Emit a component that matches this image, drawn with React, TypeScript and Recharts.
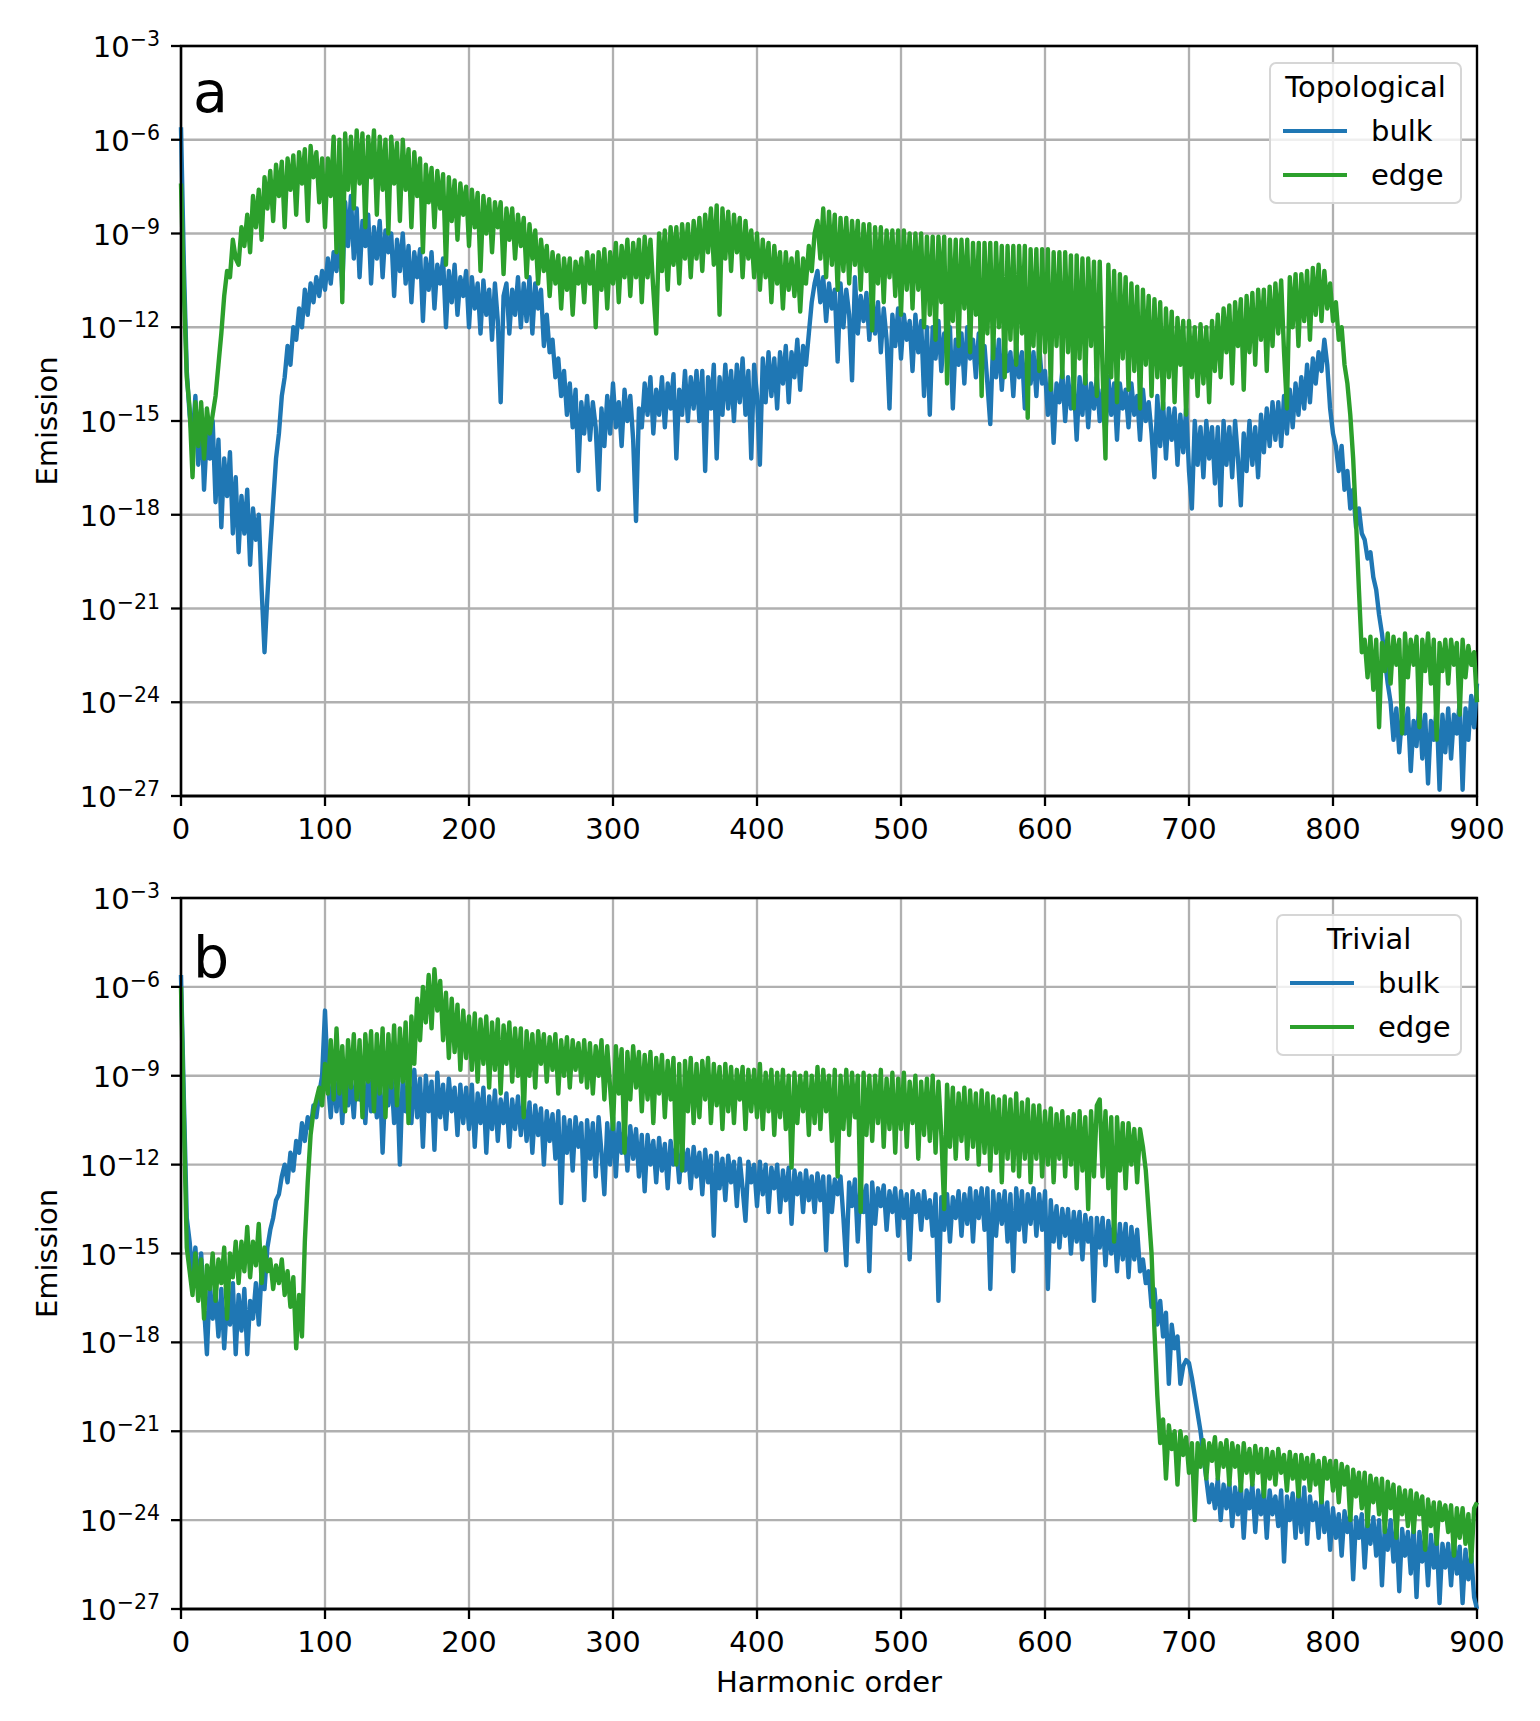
import React from 'react';
import { LineChart, Line, XAxis, YAxis, CartesianGrid, Legend, Label, ReferenceArea } from 'recharts';

// log10 of the emitted intensity, sampled every STEP harmonic orders (0 .. 900)
const STEP = 2;

const xTicks = [0, 100, 200, 300, 400, 500, 600, 700, 800, 900];
const yTicks = [-27, -24, -21, -18, -15, -12, -9, -6, -3];

// one row = 40 harmonic orders
const topologicalBulk = [
  -5.6, -10.0, -13.4, -14.8, -15.6, -14.2, -16.4, -14.6, -17.2, -15.4, -16.2, -15.0, -17.6, -15.6, -18.4, -16.2, -17.4, -16.0, -18.6, -16.8,
  -19.2, -17.4, -18.6, -17.2, -19.6, -17.8, -18.8, -18.0, -20.4, -22.4, -20.6, -19.0, -17.6, -16.2, -15.4, -14.2, -13.6, -12.6, -13.2, -12.0,
  -12.4, -11.4, -12.0, -10.8, -11.6, -10.6, -11.2, -10.4, -11.0, -10.2, -10.8, -9.8, -10.6, -9.6, -10.2, -9.0, -10.8, -8.0, -9.4, -7.8,
  -9.8, -8.2, -10.4, -8.6, -9.4, -8.4, -10.6, -8.8, -9.8, -8.6, -10.4, -8.9, -9.6, -9.0, -11.0, -9.2, -10.2, -9.0, -10.6, -9.4,
  -11.2, -9.6, -10.4, -9.5, -11.8, -9.8, -10.8, -9.6, -11.4, -10.0, -10.6, -9.8, -12.0, -10.2, -11.2, -10.0, -11.6, -10.4, -11.0, -10.2,
  -12.0, -10.4, -11.4, -10.6, -12.2, -10.5, -11.6, -10.8, -12.4, -10.6, -11.8, -14.4, -11.0, -10.6, -12.2, -10.8, -11.6, -10.4, -12.0, -10.6,
  -11.8, -10.4, -12.2, -10.6, -11.4, -10.8, -12.6, -11.6, -12.8, -12.4, -13.6, -13.0, -14.2, -13.4, -14.8, -13.8, -15.2, -14.0, -16.6, -14.4,
  -15.4, -14.2, -15.6, -14.4, -15.2, -17.2, -14.6, -15.8, -14.2, -15.4, -13.8, -15.2, -14.4, -15.8, -14.0, -15.0, -14.2, -15.6, -18.2, -14.6,
  -15.2, -13.8, -14.8, -13.6, -15.4, -14.0, -14.8, -13.6, -15.2, -13.8, -14.6, -13.5, -16.2, -14.0, -14.8, -13.4, -15.0, -13.6, -14.6, -13.4,
  -15.0, -13.4, -16.6, -13.6, -14.6, -13.2, -16.2, -13.6, -14.8, -13.2, -14.6, -13.4, -15.0, -13.2, -14.4, -13.0, -14.8, -13.4, -16.2, -13.2,
  -14.2, -16.4, -13.0, -14.4, -12.8, -14.2, -13.0, -14.6, -12.8, -13.8, -12.6, -14.4, -12.8, -13.6, -12.4, -14.0, -12.6, -13.2, -12.2, -11.2,
  -10.6, -10.2, -11.2, -10.4, -11.8, -10.6, -11.4, -10.8, -13.1, -10.6, -12.0, -10.8, -11.6, -13.7, -10.4, -12.2, -11.0, -11.8, -10.9, -12.4,
  -11.0, -12.2, -11.2, -12.8, -11.4, -12.4, -14.6, -11.6, -12.6, -11.4, -13.0, -11.6, -12.4, -11.8, -13.4, -11.6, -12.8, -11.8, -14.2, -12.0,
  -14.8, -12.0, -13.0, -11.8, -13.4, -12.2, -12.8, -12.0, -14.6, -12.4, -13.2, -12.2, -13.8, -12.0, -13.0, -12.4, -13.6, -12.2, -13.2, -12.6,
  -13.8, -15.1, -12.4, -13.6, -12.4, -14.0, -12.6, -13.4, -12.8, -14.2, -12.6, -13.6, -12.8, -14.6, -12.6, -13.8, -12.8, -14.2, -12.6, -13.8,
  -13.4, -14.8, -13.6, -15.7, -13.8, -14.4, -13.4, -15.0, -13.6, -14.6, -13.8, -15.6, -13.6, -14.8, -13.5, -15.2, -13.8, -14.6, -13.6, -15.0,
  -14.0, -15.4, -13.6, -14.8, -13.8, -15.6, -13.8, -14.6, -14.0, -15.2, -13.8, -14.8, -14.2, -15.6, -14.0, -15.0, -14.4, -15.4, -16.8, -14.2,
  -15.8, -14.4, -16.2, -14.6, -15.6, -14.6, -16.4, -14.8, -16.0, -14.6, -16.6, -17.8, -15.0, -16.4, -15.2, -16.8, -15.0, -16.2, -15.2, -17.0,
  -15.2, -17.7, -15.0, -16.4, -15.2, -16.8, -15.0, -16.2, -17.7, -15.4, -16.6, -15.0, -16.4, -15.2, -16.8, -14.8, -16.0, -14.6, -15.8, -14.4,
  -15.6, -14.4, -15.8, -14.2, -15.4, -14.0, -15.2, -13.8, -14.8, -13.6, -14.6, -13.2, -14.4, -13.0, -13.8, -12.8, -13.4, -12.4, -13.2, -14.6,
  -15.4, -15.8, -16.6, -15.8, -17.2, -16.6, -17.8, -17.2, -18.4, -17.8, -18.6, -18.8, -19.4, -19.2, -20.0, -20.4, -21.2, -21.8, -22.6, -23.4,
  -24.0, -25.2, -24.2, -25.6, -24.4, -25.0, -24.2, -26.2, -24.6, -25.4, -24.0, -25.8, -24.4, -26.6, -24.6, -25.2, -24.2, -26.8, -24.4, -25.6,
  -24.2, -25.8, -24.4, -25.0, -24.0, -26.8, -24.2, -25.2, -23.8, -24.8, -23.4,
];

const topologicalEdge = [
  -7.4, -10.8, -13.6, -14.6, -16.8, -14.4, -15.8, -14.4, -16.2, -14.6, -15.4, -14.8, -14.2, -13.2, -12.2, -11.0, -10.2, -10.4, -9.2, -9.8,
  -10.0, -8.8, -9.4, -8.4, -9.6, -7.8, -8.8, -7.6, -9.2, -7.2, -8.2, -7.0, -8.6, -6.8, -7.8, -6.7, -8.8, -6.6, -7.6, -6.5,
  -8.4, -6.4, -7.4, -6.3, -8.6, -6.2, -7.2, -6.4, -8.0, -6.6, -8.8, -6.6, -7.8, -5.9, -9.6, -6.0, -11.2, -5.8, -7.6, -5.9,
  -8.2, -5.7, -7.4, -5.8, -8.8, -5.9, -7.2, -5.7, -8.4, -5.9, -7.6, -6.0, -9.0, -5.9, -7.4, -6.1, -8.6, -6.0, -7.6, -6.3,
  -8.8, -6.4, -7.8, -6.6, -9.6, -6.8, -8.0, -6.9, -8.8, -7.0, -8.2, -7.1, -10.0, -7.2, -8.6, -7.3, -9.2, -7.4, -8.4, -7.5,
  -9.4, -7.6, -8.8, -7.7, -10.2, -7.8, -9.0, -7.9, -9.6, -8.0, -8.8, -8.0, -10.3, -8.2, -9.2, -8.2, -9.8, -8.4, -9.4, -8.5,
  -10.4, -8.7, -9.8, -8.9, -10.6, -9.2, -10.2, -9.4, -11.0, -9.6, -10.6, -9.7, -11.4, -9.8, -10.8, -9.8, -11.6, -9.9, -10.6, -9.8,
  -11.2, -9.6, -10.6, -9.7, -12.0, -9.6, -10.8, -9.5, -11.4, -9.6, -10.6, -9.3, -11.2, -9.4, -10.4, -9.2, -11.0, -9.3, -10.4, -9.2,
  -11.2, -9.1, -10.4, -9.2, -10.8, -12.2, -9.0, -10.2, -8.9, -10.8, -8.8, -10.0, -8.8, -10.6, -8.7, -9.8, -8.7, -10.4, -8.6, -9.8,
  -8.5, -10.2, -8.4, -9.6, -8.2, -10.0, -8.1, -11.6, -8.2, -9.8, -8.3, -10.2, -8.4, -9.6, -8.5, -10.4, -8.6, -9.8, -8.9, -10.4,
  -9.0, -10.8, -9.2, -10.4, -9.3, -11.2, -9.4, -10.6, -9.6, -11.4, -9.6, -10.8, -9.8, -11.0, -9.6, -11.5, -9.8, -10.6, -9.4, -10.2,
  -9.0, -8.6, -9.8, -8.2, -10.4, -8.3, -10.0, -8.4, -10.8, -8.5, -10.2, -8.5, -10.6, -8.6, -10.0, -8.6, -10.8, -8.7, -10.2, -8.7,
  -12.1, -8.8, -10.6, -8.8, -11.2, -8.9, -10.4, -8.9, -11.0, -8.9, -11.6, -8.9, -10.8, -9.0, -11.4, -9.0, -10.8, -9.0, -12.0, -9.1,
  -11.6, -9.1, -12.4, -9.1, -11.2, -9.1, -13.8, -9.2, -11.8, -9.2, -12.6, -9.2, -11.4, -9.2, -12.8, -9.3, -11.6, -9.3, -14.2, -9.3,
  -12.2, -9.3, -13.0, -9.3, -12.0, -9.4, -13.6, -9.4, -12.4, -9.4, -13.2, -9.4, -12.2, -9.4, -14.9, -9.5, -12.6, -9.5, -13.4, -9.5,
  -12.8, -9.5, -14.0, -9.6, -12.6, -9.6, -13.6, -9.6, -12.8, -9.7, -14.6, -9.7, -13.0, -9.8, -13.8, -9.8, -12.6, -9.9, -14.2, -9.9,
  -13.4, -16.2, -10.0, -13.6, -10.2, -14.4, -10.3, -13.0, -10.4, -14.0, -10.6, -13.4, -10.7, -14.6, -10.8, -13.2, -11.0, -14.2, -11.1, -13.6,
  -11.2, -14.6, -11.4, -13.6, -11.5, -14.4, -11.7, -13.2, -11.8, -14.8, -11.8, -13.6, -12.0, -14.2, -11.9, -13.8, -12.0, -14.4, -11.8, -13.4,
  -11.6, -13.6, -11.4, -12.8, -11.3, -13.8, -11.2, -12.6, -11.1, -14.0, -11.0, -12.8, -10.9, -13.2, -10.8, -12.4, -10.8, -13.4, -10.7, -12.6,
  -10.6, -12.2, -10.5, -12.8, -14.6, -10.4, -12.0, -10.3, -12.6, -10.3, -11.8, -10.2, -12.4, -10.1, -11.6, -10.0, -11.8, -10.2, -11.4, -10.6,
  -11.8, -11.2, -12.4, -12.0, -13.2, -13.8, -14.8, -16.2, -18.2, -20.4, -22.4, -22.0, -23.2, -21.9, -23.6, -22.0, -24.8, -22.1, -23.0, -21.8,
  -23.4, -21.9, -22.8, -22.0, -25.0, -21.8, -23.2, -22.0, -22.8, -21.9, -24.8, -22.0, -23.0, -21.8, -23.4, -22.0, -25.2, -22.1, -23.0, -22.0,
  -23.4, -22.0, -22.8, -22.1, -24.4, -22.0, -23.2, -22.2, -22.8, -22.4, -24.0,
];

const trivialBulk = [
  -5.6, -9.8, -13.8, -14.6, -15.8, -14.8, -16.2, -15.0, -16.8, -18.4, -16.0, -17.2, -16.4, -17.8, -16.2, -18.2, -16.6, -17.4, -16.0, -18.4,
  -16.4, -17.6, -16.2, -18.4, -16.6, -17.2, -16.0, -17.4, -15.6, -16.2, -14.8, -14.2, -13.8, -13.2, -13.0, -12.4, -12.0, -12.6, -11.6, -12.2,
  -11.2, -11.6, -10.6, -11.2, -10.4, -10.8, -10.0, -10.4, -9.6, -9.0, -6.8, -9.2, -10.4, -8.9, -10.2, -9.0, -10.6, -8.8, -10.0, -9.2,
  -10.4, -8.8, -9.8, -9.0, -10.6, -8.9, -10.2, -9.1, -10.4, -9.0, -11.6, -9.2, -10.0, -8.9, -10.6, -9.2, -12.0, -9.0, -10.2, -9.2,
  -10.6, -8.8, -10.4, -9.1, -11.4, -9.0, -10.2, -9.2, -11.5, -8.9, -10.4, -9.3, -10.8, -9.1, -10.2, -9.4, -11.0, -9.3, -10.6, -9.4,
  -10.8, -9.3, -11.4, -9.6, -10.6, -9.4, -11.6, -9.7, -10.8, -9.5, -11.2, -9.8, -10.6, -9.6, -11.4, -9.8, -10.8, -9.7, -11.0, -9.8,
  -11.2, -9.9, -11.6, -10.0, -11.0, -10.1, -12.0, -10.2, -11.2, -10.3, -11.8, -10.2, -13.3, -10.4, -11.6, -10.5, -12.2, -10.4, -11.4, -10.6,
  -13.2, -10.5, -11.8, -10.6, -12.4, -10.4, -11.6, -13.0, -10.6, -12.0, -10.4, -12.4, -10.6, -11.6, -10.8, -12.2, -10.7, -11.8, -10.8, -12.4,
  -11.0, -12.9, -11.0, -12.0, -11.2, -12.6, -11.1, -12.2, -11.3, -12.8, -11.2, -12.0, -11.4, -12.6, -11.3, -12.2, -11.5, -12.8, -11.4, -12.4,
  -11.6, -13.0, -11.5, -12.6, -11.7, -14.4, -11.6, -12.8, -11.8, -13.2, -11.7, -12.6, -11.9, -13.4, -11.8, -12.8, -13.9, -11.9, -12.6, -12.0,
  -13.4, -11.9, -13.0, -12.0, -13.6, -12.1, -12.8, -12.0, -13.6, -12.2, -13.2, -12.1, -14.0, -12.2, -13.0, -12.3, -13.6, -12.2, -13.2, -12.4,
  -13.6, -12.3, -13.2, -12.4, -14.9, -12.4, -13.6, -12.5, -13.0, -12.4, -13.8, -15.4, -12.6, -13.4, -12.5, -14.6, -12.6, -13.6, -12.7, -15.6,
  -12.6, -14.0, -12.8, -13.4, -12.7, -14.2, -12.9, -13.6, -12.8, -14.4, -12.9, -13.8, -13.0, -15.2, -12.9, -13.6, -13.0, -14.2, -12.9, -13.8,
  -13.2, -14.4, -13.0, -16.6, -13.1, -14.2, -13.0, -14.6, -13.1, -13.8, -12.9, -14.4, -13.0, -14.0, -12.8, -14.6, -12.9, -13.8, -12.8, -14.2,
  -12.8, -16.2, -12.9, -14.4, -13.0, -14.0, -12.9, -14.6, -13.0, -15.6, -12.8, -14.2, -12.9, -14.6, -13.0, -14.0, -12.8, -14.4, -13.0, -14.2,
  -12.9, -16.2, -13.2, -14.6, -13.4, -14.8, -13.5, -14.4, -13.5, -15.0, -13.6, -14.6, -13.6, -15.2, -13.7, -14.6, -13.8, -16.6, -13.8, -14.8,
  -13.8, -15.4, -13.9, -15.0, -13.9, -15.6, -14.0, -15.2, -14.0, -15.8, -14.1, -15.2, -14.2, -15.6, -15.2, -16.0, -15.6, -16.8, -16.2, -17.4,
  -16.6, -17.8, -17.0, -19.4, -17.4, -18.2, -17.8, -19.4, -18.8, -18.6, -18.7, -19.2, -19.8, -20.4, -21.0, -21.8, -22.6, -23.4, -22.8, -23.6,
  -22.6, -24.0, -22.8, -23.6, -22.7, -24.2, -22.9, -23.8, -22.8, -24.6, -23.0, -23.6, -22.8, -24.4, -23.0, -23.8, -22.9, -24.6, -23.0, -23.8,
  -23.2, -24.2, -23.0, -25.4, -23.2, -24.0, -23.1, -24.6, -23.0, -24.4, -22.9, -24.8, -23.2, -24.0, -23.4, -24.6, -23.2, -24.4, -23.4, -25.0,
  -23.6, -24.6, -23.8, -25.2, -23.7, -24.4, -23.8, -26.0, -23.9, -24.6, -23.8, -25.6, -24.0, -24.8, -23.9, -25.2, -24.0, -26.2, -24.2, -25.0,
  -24.0, -25.4, -24.2, -26.4, -24.3, -25.2, -24.4, -25.8, -24.2, -26.6, -24.4, -25.4, -24.6, -26.2, -24.5, -25.6, -24.6, -26.8, -24.8, -25.6,
  -24.8, -26.2, -24.7, -25.8, -24.9, -26.8, -25.0, -26.0, -25.2, -26.6, -27.0,
];

const trivialEdge = [
  -6.0, -10.4, -14.8, -15.6, -16.4, -15.0, -16.6, -15.2, -17.2, -15.4, -16.2, -15.0, -16.6, -15.2, -16.0, -14.8, -17.2, -15.0, -15.8, -14.6,
  -16.0, -14.6, -15.6, -14.1, -15.8, -14.6, -15.4, -14.0, -16.0, -14.8, -15.6, -15.2, -16.2, -15.4, -16.0, -15.2, -16.4, -15.6, -16.8, -15.8,
  -18.2, -16.4, -17.8, -14.6, -12.6, -11.0, -10.2, -9.8, -9.4, -10.0, -8.6, -9.6, -7.8, -9.8, -7.4, -9.6, -8.0, -10.2, -7.8, -9.4,
  -7.6, -9.8, -7.8, -10.4, -7.6, -9.2, -7.5, -10.2, -7.6, -9.6, -7.4, -10.4, -7.6, -9.4, -7.3, -10.0, -7.4, -9.2, -7.2, -10.6,
  -7.0, -8.6, -6.4, -7.8, -6.0, -7.2, -5.6, -7.4, -5.4, -6.8, -5.8, -7.8, -6.2, -8.4, -6.4, -8.2, -6.6, -8.8, -6.8, -8.4,
  -7.0, -8.8, -6.9, -9.2, -7.1, -8.6, -7.0, -9.4, -7.2, -8.8, -7.1, -9.6, -7.3, -8.6, -7.2, -9.2, -7.4, -9.0, -7.4, -10.4,
  -7.5, -9.0, -7.6, -9.4, -7.5, -8.6, -7.6, -9.2, -7.7, -8.8, -7.6, -9.6, -7.8, -9.0, -7.7, -9.4, -7.8, -8.8, -7.9, -9.2,
  -7.8, -9.4, -7.9, -9.6, -8.0, -9.0, -7.8, -9.8, -8.0, -9.4, -10.8, -8.0, -9.6, -8.1, -11.6, -8.2, -9.8, -8.0, -9.4, -8.2,
  -10.2, -8.3, -9.8, -8.2, -10.6, -8.4, -9.6, -8.3, -10.4, -8.5, -9.8, -8.4, -12.0, -8.6, -12.2, -8.5, -10.2, -8.4, -10.6, -8.6,
  -10.4, -8.5, -9.8, -8.4, -10.6, -8.6, -10.0, -8.7, -10.8, -8.6, -10.2, -8.7, -10.6, -8.8, -9.8, -8.7, -10.8, -8.8, -10.2, -8.8,
  -10.4, -8.6, -10.8, -8.9, -10.2, -8.8, -11.0, -8.9, -10.4, -8.8, -10.8, -9.0, -12.1, -8.9, -10.6, -9.0, -10.2, -8.9, -11.0, -9.0,
  -10.6, -8.7, -10.8, -8.8, -10.2, -9.0, -11.2, -8.8, -12.4, -9.0, -10.8, -8.8, -11.0, -8.9, -10.4, -9.0, -13.6, -8.9, -11.0, -9.0,
  -11.2, -9.0, -10.6, -8.8, -11.4, -9.1, -10.8, -8.9, -11.6, -9.1, -10.8, -8.9, -11.4, -9.2, -10.6, -9.0, -11.8, -9.2, -11.0, -9.1,
  -11.2, -9.0, -11.6, -9.2, -11.0, -13.5, -9.3, -11.4, -9.4, -11.8, -9.6, -11.2, -9.4, -11.8, -9.5, -11.4, -9.6, -12.0, -9.5, -11.6,
  -9.6, -12.2, -9.7, -11.6, -9.8, -12.6, -9.7, -11.8, -9.8, -12.2, -9.6, -12.4, -9.9, -11.8, -9.8, -12.6, -10.0, -11.8, -10.0, -12.4,
  -10.2, -12.0, -10.1, -12.6, -10.3, -11.8, -10.2, -12.4, -10.4, -12.0, -10.3, -12.8, -10.2, -12.2, -10.4, -13.5, -10.2, -12.4, -10.0, -9.8,
  -12.4, -10.2, -12.8, -10.4, -14.6, -10.4, -12.2, -10.6, -12.8, -10.6, -12.0, -10.8, -12.6, -10.8, -11.4, -12.2, -13.6, -15.0, -17.6, -19.8,
  -21.4, -20.6, -22.6, -20.8, -21.6, -21.0, -22.8, -21.0, -21.8, -21.2, -22.4, -21.4, -24.0, -21.4, -22.2, -21.3, -22.6, -21.4, -22.0, -21.2,
  -22.6, -21.4, -22.2, -21.3, -22.8, -21.4, -22.2, -21.5, -23.0, -21.4, -22.4, -21.6, -22.8, -21.5, -22.4, -21.6, -23.2, -21.6, -22.6, -21.7,
  -22.8, -21.6, -22.4, -21.8, -23.0, -21.7, -22.6, -21.8, -23.2, -21.8, -22.6, -21.9, -23.0, -21.8, -22.8, -22.0, -23.4, -21.9, -22.6, -22.0,
  -23.0, -22.0, -23.4, -22.1, -22.8, -22.2, -24.0, -22.3, -23.2, -22.4, -23.6, -22.4, -24.2, -22.5, -23.4, -22.6, -23.8, -22.6, -24.4, -22.7,
  -23.6, -22.8, -24.6, -22.9, -23.8, -23.0, -24.2, -23.0, -24.4, -23.1, -23.8, -23.2, -25.0, -23.3, -24.2, -23.4, -24.8, -23.4, -24.0, -23.5,
  -24.4, -23.5, -25.2, -23.6, -24.6, -23.6, -24.8, -23.8, -25.4, -23.6, -23.4,
];

const FONT = '"DejaVu Sans", sans-serif';
const BLUE = '#1f77b4';
const GREEN = '#2ca02c';

function toRows(bulk: number[], edge: number[]) {
  return bulk.map((b, i) => ({ order: i * STEP, bulk: b, edge: edge[i] }));
}

function PowerTick({ x, y, payload }: any) {
  return (
    <text x={x} y={y + 11} textAnchor="end" fontFamily={FONT} fontSize={29} fill="#000">
      10
      <tspan dy={-11} fontSize={20.5}>{`\u2212${Math.abs(payload.value)}`}</tspan>
    </text>
  );
}

function LegendBox({ payload, title, width }: any) {
  return (
    <div
      style={{
        width,
        height: 142,
        boxSizing: 'border-box',
        border: '2.5px solid #d6d6d6',
        borderRadius: 7,
        background: 'rgba(255,255,255,0.8)',
        fontFamily: FONT,
        fontSize: 29,
        paddingTop: 1,
      }}
    >
      <div style={{ height: 44, lineHeight: '44px', textAlign: 'center' }}>{title}</div>
      {(payload || []).map((entry: any) => (
        <div key={entry.value} style={{ height: 44, display: 'flex', alignItems: 'center' }}>
          <div style={{ marginLeft: 12, width: 64, height: 4.4, background: entry.color }} />
          <span style={{ marginLeft: 24, lineHeight: '44px' }}>{entry.value}</span>
        </div>
      ))}
    </div>
  );
}

function EmissionTitle({ viewBox }: any) {
  const cy = viewBox.y + viewBox.height / 2;
  return (
    <text
      x={57}
      y={cy}
      transform={`rotate(-90, 57, ${cy})`}
      textAnchor="middle"
      fontFamily={FONT}
      fontSize={29}
      fill="#000"
    >
      Emission
    </text>
  );
}

function OrderTitle({ viewBox }: any) {
  return (
    <text
      x={viewBox.x + viewBox.width / 2}
      y={viewBox.y + 83}
      textAnchor="middle"
      fontFamily={FONT}
      fontSize={29}
      fill="#000"
    >
      Harmonic order
    </text>
  );
}

interface PanelProps {
  rows: { order: number; bulk: number; edge: number }[];
  height: number;
  axisHeight: number;
  title: string;
  legendLeft: number;
  legendWidth: number;
  showOrderTitle?: boolean;
}

function SpectrumPanel({ rows, height, axisHeight, title, legendLeft, legendWidth, showOrderTitle }: PanelProps) {
  return (
    <LineChart width={1540} height={height} data={rows} margin={{ top: 46, right: 63, bottom: 0, left: 0 }}>
      <CartesianGrid stroke="#b0b0b0" strokeWidth={2.3} />
      <XAxis
        dataKey="order"
        type="number"
        domain={[0, 900]}
        ticks={xTicks}
        height={axisHeight}
        tickSize={10}
        tickMargin={12}
        stroke="#000"
        strokeWidth={2.3}
        tick={{ fill: '#000', fontSize: 29, fontFamily: FONT }}
      >
        {showOrderTitle && <Label content={OrderTitle} />}
      </XAxis>
      <YAxis
        type="number"
        domain={[-27, -3]}
        ticks={yTicks}
        width={181}
        tickSize={10}
        tickMargin={11}
        stroke="#000"
        strokeWidth={2.3}
        tick={PowerTick}
      >
        <Label content={EmissionTitle} />
      </YAxis>
      <Line dataKey="bulk" name="bulk" stroke={BLUE} strokeWidth={4.4} strokeLinejoin="round" dot={false} isAnimationActive={false} />
      <Line dataKey="edge" name="edge" stroke={GREEN} strokeWidth={4.4} strokeLinejoin="round" dot={false} isAnimationActive={false} />
      <ReferenceArea x1={0} x2={900} y1={-27} y2={-3} fill="none" fillOpacity={0} stroke="#000" strokeWidth={2.3} ifOverflow="visible" />
      <Legend
        layout="vertical"
        align="center"
        verticalAlign="middle"
        wrapperStyle={{ top: 62, left: legendLeft, width: legendWidth }}
        content={(props: any) => <LegendBox payload={props.payload} title={title} width={legendWidth} />}
      />
    </LineChart>
  );
}

function PanelLetter({ letter, top }: { letter: string; top: number }) {
  return (
    <div style={{ position: 'absolute', left: 193, top, fontFamily: FONT, fontSize: 57, lineHeight: '57px', color: '#000' }}>
      {letter}
    </div>
  );
}

export default function App() {
  const topRows = toRows(topologicalBulk, topologicalEdge);
  const bottomRows = toRows(trivialBulk, trivialEdge);
  return (
    <div style={{ position: 'absolute', left: 0, top: 0, width: 1540, height: 1721, background: '#fff' }}>
      <div style={{ position: 'absolute', left: 0, top: 0 }}>
        <SpectrumPanel rows={topRows} height={852} axisHeight={56} title="Topological" legendLeft={1269} legendWidth={193} />
      </div>
      <div style={{ position: 'absolute', left: 0, top: 852 }}>
        <SpectrumPanel rows={bottomRows} height={869} axisHeight={112} title="Trivial" legendLeft={1276} legendWidth={186} showOrderTitle />
      </div>
      <PanelLetter letter="a" top={64} />
      <PanelLetter letter="b" top={929} />
    </div>
  );
}
